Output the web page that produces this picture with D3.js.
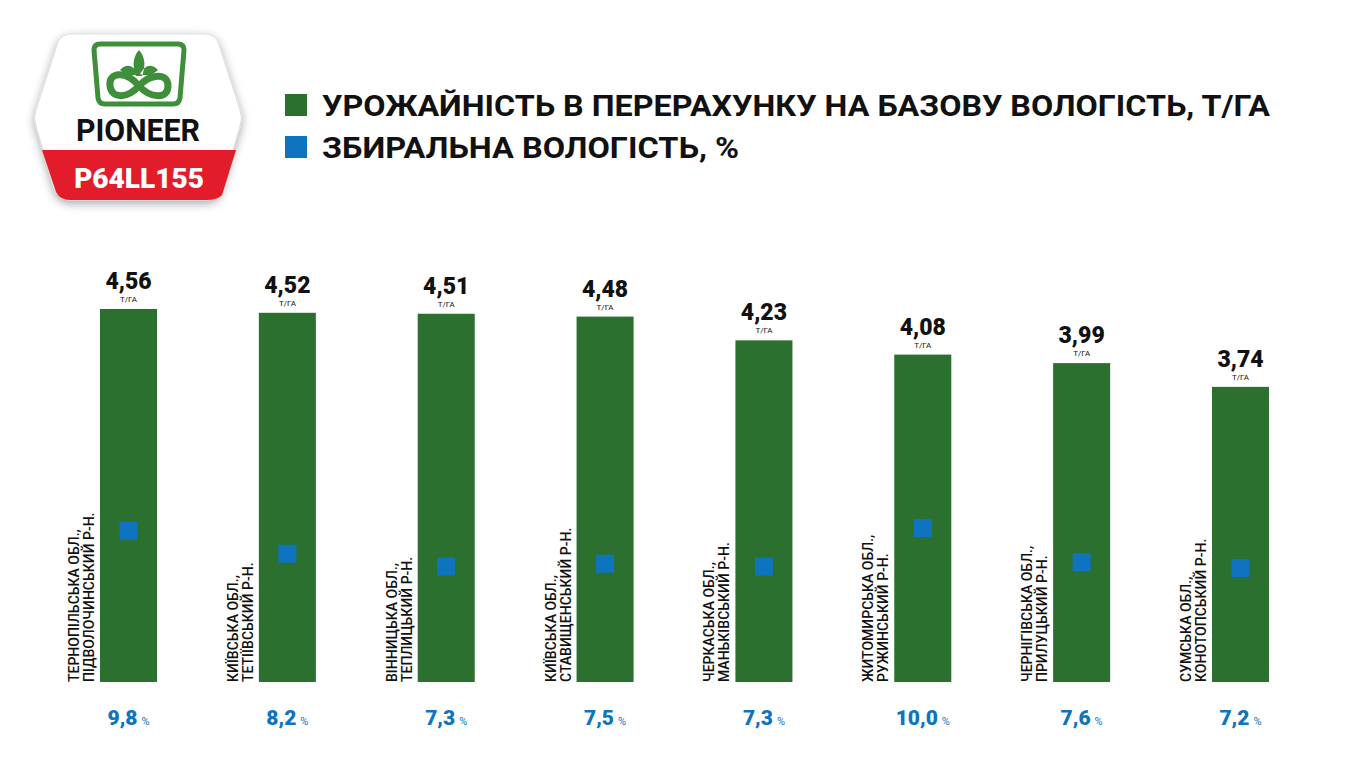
<!DOCTYPE html>
<html><head><meta charset="utf-8">
<script src="https://cdn.jsdelivr.net/npm/d3@7"></script>
<style>body{margin:0;background:#fff}svg{display:block}</style></head>
<body><svg id="c" width="1366" height="768"></svg>
<script>
const regions = [
  ['ТЕРНОПІЛЬСЬКА ОБЛ.,', 'ПІДВОЛОЧИНСЬКИЙ Р-Н.'],
  ['КИЇВСЬКА ОБЛ.,', 'ТЕТІЇВСЬКИЙ Р-Н.'],
  ['ВІННИЦЬКА ОБЛ.,', 'ТЕПЛИЦЬКИЙ Р-Н.'],
  ['КИЇВСЬКА ОБЛ.,', 'СТАВИЩЕНСЬКИЙ Р-Н.'],
  ['ЧЕРКАСЬКА ОБЛ.,', 'МАНЬКІВСЬКИЙ Р-Н.'],
  ['ЖИТОМИРСЬКА ОБЛ.,', 'РУЖИНСЬКИЙ Р-Н.'],
  ['ЧЕРНІГІВСЬКА ОБЛ.,', 'ПРИЛУЦЬКИЙ Р-Н.'],
  ['СУМСЬКА ОБЛ.,', 'КОНОТОПСЬКИЙ Р-Н.']
]
const yieldVals = [4.56, 4.52, 4.51, 4.48, 4.23, 4.08, 3.99, 3.74]
const moisture = [9.8, 8.2, 7.3, 7.5, 7.3, 10.0, 7.6, 7.2]
const legendLabels = ['УРОЖАЙНІСТЬ В ПЕРЕРАХУНКУ НА БАЗОВУ ВОЛОГІСТЬ, Т/ГА', 'ЗБИРАЛЬНА ВОЛОГІСТЬ, %']

const GREEN = '#2b702e', BLUE = '#0f74c0'
const fmt = v => d3.format('.2f')(v).replace('.', ',')
const fmt1 = v => d3.format('.1f')(v).replace('.', ',')
const svg = d3.select('#c')
const font = "'Liberation Sans Narrow','Roboto','DejaVu Sans Condensed',sans-serif"

const x = d3.scaleBand().domain(d3.range(8)).range([100, 1269]).paddingInner(0.641).paddingOuter(0)
const y = d3.scaleLinear().domain([0, 4.56]).range([742, 309])
const yM = d3.scaleLinear().domain([7.2, 10]).range([568, 528])
const base = 682

const g = svg.append('g')
g.selectAll('rect.bar').data(yieldVals).enter().append('rect')
  .attr('class', 'bar').attr('fill', GREEN)
  .attr('x', (d, i) => x(i)).attr('width', x.bandwidth())
  .attr('y', d => y(d)).attr('height', d => base - y(d))

g.selectAll('rect.m').data(moisture).enter().append('rect')
  .attr('fill', BLUE)
  .attr('x', (d, i) => x(i) + x.bandwidth() / 2 - 9).attr('width', 18)
  .attr('y', d => yM(d) - 9).attr('height', 18)

g.selectAll('text.v').data(yieldVals).enter().append('text')
  .attr('x', (d, i) => x(i) + x.bandwidth() / 2).attr('y', d => y(d) - 20)
  .attr('text-anchor', 'middle').attr('font-family', 'Roboto, sans-serif')
  .attr('font-weight', 900).attr('font-size', 23).attr('fill', '#111')
  .text(d => fmt(d))
g.selectAll('text.u').data(yieldVals).enter().append('text')
  .attr('x', (d, i) => x(i) + x.bandwidth() / 2).attr('y', d => y(d) - 7)
  .attr('text-anchor', 'middle').attr('font-family', 'Roboto, sans-serif')
  .attr('font-size', 8).attr('fill', '#111').text('Т/ГА')

regions.forEach((r, i) => {
  const t = g.append('text')
    .attr('transform', `translate(${x(i) - 21},${base}) rotate(-90)`)
    .attr('font-family', 'Roboto, sans-serif').attr('font-weight', 500).attr('font-size', 14).attr('fill', '#111')
  t.append('tspan').attr('x', 0).attr('dy', 0).text(r[0])
  t.append('tspan').attr('x', 0).attr('dy', 15).text(r[1])
})

const mt = g.selectAll('text.mv').data(moisture).enter().append('text')
  .attr('x', (d, i) => x(i) + x.bandwidth() / 2).attr('y', 725)
  .attr('text-anchor', 'middle').attr('font-family', 'Roboto, sans-serif')
  .attr('fill', BLUE)
mt.append('tspan').attr('font-weight', 900).attr('font-size', 21).text(d => fmt1(d))
mt.append('tspan').attr('font-size', 11).attr('dx', 4).text('%')

// legend
const lg = svg.append('g')
legendLabels.forEach((l, i) => {
  lg.append('rect').attr('x', 285).attr('y', 94 + i * 42).attr('width', 22).attr('height', 22)
    .attr('fill', i ? BLUE : GREEN)
  lg.append('text').attr('x', 322).attr('y', 116 + i * 42)
    .attr('font-family', font).attr('font-weight', 700).attr('font-size', 30).attr('fill', '#111')
    .attr('textLength', i ? 417 : 948).attr('lengthAdjust', 'spacingAndGlyphs').text(l)
})

// logo
const defs = svg.append('defs')
const f = defs.append('filter').attr('id', 'sh').attr('x', '-20%').attr('y', '-20%').attr('width', '140%').attr('height', '140%')
f.append('feDropShadow').attr('dx', 0).attr('dy', 3).attr('stdDeviation', 5).attr('flood-opacity', 0.35)
const L = svg.append('g')
L.append('path').attr('filter', 'url(#sh)').attr('fill', '#fff').attr('stroke', '#ddd')
  .attr('d', 'M72,34 L205,34 Q214,34 218,42 L240,110 Q243,118 240,126 L222,188 Q218,200 206,200 L70,200 Q58,200 54,188 L36,126 Q33,118 36,110 L58,42 Q62,34 72,34 Z')
L.append('path').attr('fill', '#e31c2c').attr('d', 'M42,150 L236,150 L222,195 Q218,200 206,200 L70,200 Q60,200 56,192 Z')
L.append('text').attr('x', 139).attr('y', 188).attr('text-anchor', 'middle').attr('fill', '#fff')
  .attr('font-family', 'Roboto, sans-serif').attr('font-weight', 900).attr('font-size', 28).text('P64LL155')
L.append('text').attr('x', 138).attr('y', 141).attr('text-anchor', 'middle').attr('fill', '#111')
  .attr('font-family', font).attr('font-weight', 700).attr('font-size', 31)
  .attr('textLength', 124).attr('lengthAdjust', 'spacingAndGlyphs').text('PIONEER')
L.append('path').attr('fill', 'none').attr('stroke', '#3f8f3a').attr('stroke-width', 5)
  .attr('d', 'M100,44 L178,44 Q184,44 184,50 L180,98 Q179,104 173,104 L105,104 Q99,104 98,98 L94,50 Q94,44 100,44 Z')
L.append('path').attr('fill', 'none').attr('stroke', '#3f8f3a').attr('stroke-width', 7)
  .attr('d', 'M139,86 C126,70 108,72 110,86 C112,100 128,98 139,86 C150,74 168,72 168,86 C168,100 150,98 139,86')
L.append('path').attr('fill', '#3f8f3a')
  .attr('d', 'M139,50 Q148,60 142,76 L136,76 Q130,60 139,50 Z M120,70 Q130,60 138,74 Q128,78 120,70 Z M158,70 Q148,60 140,74 Q150,78 158,70 Z')
</script></body></html>
